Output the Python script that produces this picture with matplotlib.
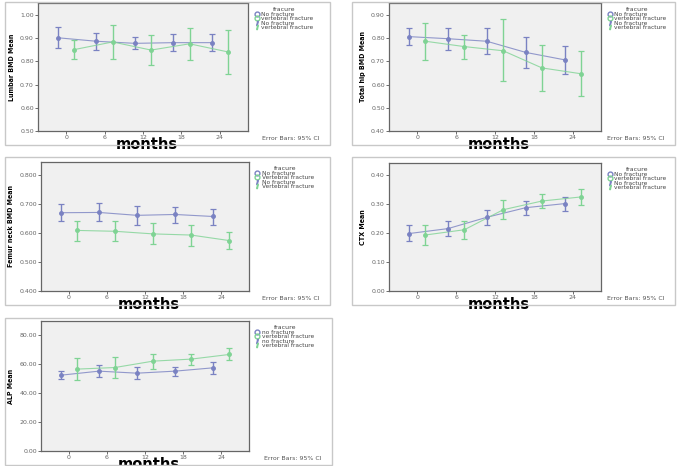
import numpy as np
import matplotlib
matplotlib.use("Agg")
import matplotlib.pyplot as plt
from matplotlib.patches import Rectangle
from matplotlib.lines import Line2D

W, H = 685, 466

months = ["0", "6", "12", "18", "24"]

# Lumbar BMD
lumbar_no = [0.902, 0.887, 0.878, 0.881, 0.881]
lumbar_no_lo = [0.856, 0.849, 0.852, 0.845, 0.845]
lumbar_no_hi = [0.947, 0.924, 0.907, 0.918, 0.917]
lumbar_vf = [0.851, 0.884, 0.849, 0.876, 0.841]
lumbar_vf_lo = [0.809, 0.809, 0.784, 0.805, 0.746]
lumbar_vf_hi = [0.892, 0.958, 0.914, 0.945, 0.934]

# Total hip BMD
hip_no = [0.807, 0.798, 0.787, 0.739, 0.707]
hip_no_lo = [0.769, 0.749, 0.732, 0.673, 0.647]
hip_no_hi = [0.843, 0.845, 0.843, 0.807, 0.768]
hip_vf = [0.787, 0.764, 0.746, 0.672, 0.647]
hip_vf_lo = [0.705, 0.710, 0.616, 0.574, 0.549]
hip_vf_hi = [0.867, 0.815, 0.881, 0.771, 0.746]

# Femur neck BMD
neck_no = [0.670, 0.671, 0.661, 0.664, 0.657]
neck_no_lo = [0.641, 0.641, 0.627, 0.636, 0.628]
neck_no_hi = [0.699, 0.702, 0.693, 0.691, 0.684]
neck_vf = [0.609, 0.606, 0.597, 0.593, 0.574]
neck_vf_lo = [0.574, 0.571, 0.561, 0.556, 0.544]
neck_vf_hi = [0.643, 0.641, 0.633, 0.629, 0.604]

# CTX
ctx_no = [0.198, 0.215, 0.254, 0.287, 0.301]
ctx_no_lo = [0.172, 0.190, 0.226, 0.263, 0.274]
ctx_no_hi = [0.226, 0.241, 0.280, 0.311, 0.325]
ctx_vf = [0.193, 0.211, 0.280, 0.310, 0.324]
ctx_vf_lo = [0.158, 0.178, 0.247, 0.287, 0.295]
ctx_vf_hi = [0.226, 0.242, 0.313, 0.333, 0.353]

# ALP
alp_no = [52.3, 55.1, 53.7, 55.1, 57.4]
alp_no_lo = [49.6, 51.4, 49.6, 51.6, 53.0]
alp_no_hi = [55.3, 59.0, 58.1, 58.3, 61.6]
alp_vf = [56.5, 57.6, 62.0, 63.4, 66.6]
alp_vf_lo = [48.9, 50.3, 56.9, 59.0, 62.5]
alp_vf_hi = [64.3, 65.0, 66.6, 67.1, 71.2]

BLUE = "#7a82c2"
GREEN = "#7fd394"

fig = plt.figure(figsize=(W / 100, H / 100), dpi=100)


def fbox(x0, y0, x1, y1):
    return [x0 / W, 1 - y1 / H, (x1 - x0) / W, (y1 - y0) / H]


def panel(box, axbox, ylim, yticks, fmt, ylabel, series, labels):
    bx = fbox(*box)
    fig.patches.append(Rectangle((bx[0], bx[1]), bx[2], bx[3], transform=fig.transFigure,
                                 fill=False, edgecolor="#c8c8c8", linewidth=1.0))
    ax = fig.add_axes(fbox(*axbox))
    ax.set_facecolor("#f0f0f0")
    for s in ax.spines.values():
        s.set_color("#666666")
        s.set_linewidth(0.9)
    x = np.arange(len(months))
    for (mean, lo, hi), col, off in zip(series, [BLUE, GREEN], [-0.21, 0.21]):
        mean = np.array(mean)
        err = [mean - np.array(lo), np.array(hi) - mean]
        ax.plot(x + off, mean, color=col, linewidth=0.8, alpha=0.8)
        ax.errorbar(x + off, mean, yerr=err, fmt="o", color=col, markersize=2.5,
                    elinewidth=1.0, capsize=2.2, capthick=0.9)
    ax.set_xlim(-0.73, 4.73)
    ax.set_ylim(*ylim)
    ax.set_yticks(yticks)
    ax.set_yticklabels([fmt.format(v) for v in yticks])
    ax.set_xticks(x)
    ax.set_xticklabels(months)
    ax.tick_params(axis="both", labelsize=4.5, colors="#555555", length=2, width=0.6,
                   labelcolor="#666666", pad=1)
    ax.set_ylabel(ylabel, fontsize=5, fontweight="bold", labelpad=4,
                  fontstretch="condensed")
    ax.set_xlabel("months", fontsize=10.5, fontweight="bold")
    ax.xaxis.set_label_coords(0.52, -0.045)
    # legend
    handles = [Line2D([], [], color=BLUE, marker="o", markerfacecolor="none",
                      linestyle="none", markersize=3.5),
               Line2D([], [], color=GREEN, marker="o", markerfacecolor="none",
                      linestyle="none", markersize=3.5),
               Line2D([], [], color=BLUE, marker="$I$", linestyle="none", markersize=3),
               Line2D([], [], color=GREEN, marker="$I$", linestyle="none", markersize=3)]
    leg = ax.legend(handles, labels + labels, title="fracure", loc="upper left",
                    bbox_to_anchor=(1.01, 1.0), frameon=False, fontsize=4.2,
                    title_fontsize=4.5, handlelength=0.8, handletextpad=0.4,
                    labelspacing=-0.1, borderaxespad=0.3)
    for t in leg.get_texts():
        t.set_color("#444444")
    leg.get_title().set_color("#444444")
    fig.text((box[2] - 10) / W, 1 - (box[3] - 4) / H, "Error Bars: 95% CI",
             fontsize=4.5, color="#555555", ha="right", va="bottom")
    return ax


lab = ["No fracture", "vertebral fracture"]

panel((5, 2, 330, 145), (38, 3, 248, 131), (0.5, 1.052),
      [0.5, 0.6, 0.7, 0.8, 0.9, 1.0], "{:.2f}", "Lumbar BMD Mean",
      [(lumbar_no, lumbar_no_lo, lumbar_no_hi), (lumbar_vf, lumbar_vf_lo, lumbar_vf_hi)], lab)

panel((352, 2, 675, 145), (389, 3, 601, 131), (0.4, 0.952),
      [0.4, 0.5, 0.6, 0.7, 0.8, 0.9], "{:.2f}", "Total hip BMD Mean",
      [(hip_no, hip_no_lo, hip_no_hi), (hip_vf, hip_vf_lo, hip_vf_hi)], lab)

panel((5, 157, 330, 305), (41, 162, 249, 291), (0.4, 0.845),
      [0.4, 0.5, 0.6, 0.7, 0.8], "{:.3f}", "Femur neck BMD Mean",
      [(neck_no, neck_no_lo, neck_no_hi), (neck_vf, neck_vf_lo, neck_vf_hi)],
      ["No fracture", "Vertebral fracture"])

panel((352, 157, 675, 305), (389, 163, 601, 291), (0.0, 0.441),
      [0.0, 0.1, 0.2, 0.3, 0.4], "{:.2f}", "CTX Mean",
      [(ctx_no, ctx_no_lo, ctx_no_hi), (ctx_vf, ctx_vf_lo, ctx_vf_hi)], lab)

panel((5, 318, 332, 465), (41, 321, 249, 451), (0.0, 89.7),
      [0, 20, 40, 60, 80], "{:.2f}", "ALP Mean",
      [(alp_no, alp_no_lo, alp_no_hi), (alp_vf, alp_vf_lo, alp_vf_hi)],
      ["no fracture", "vertebral fracture"])

fig.savefig("out.png", dpi=100, facecolor="white")
